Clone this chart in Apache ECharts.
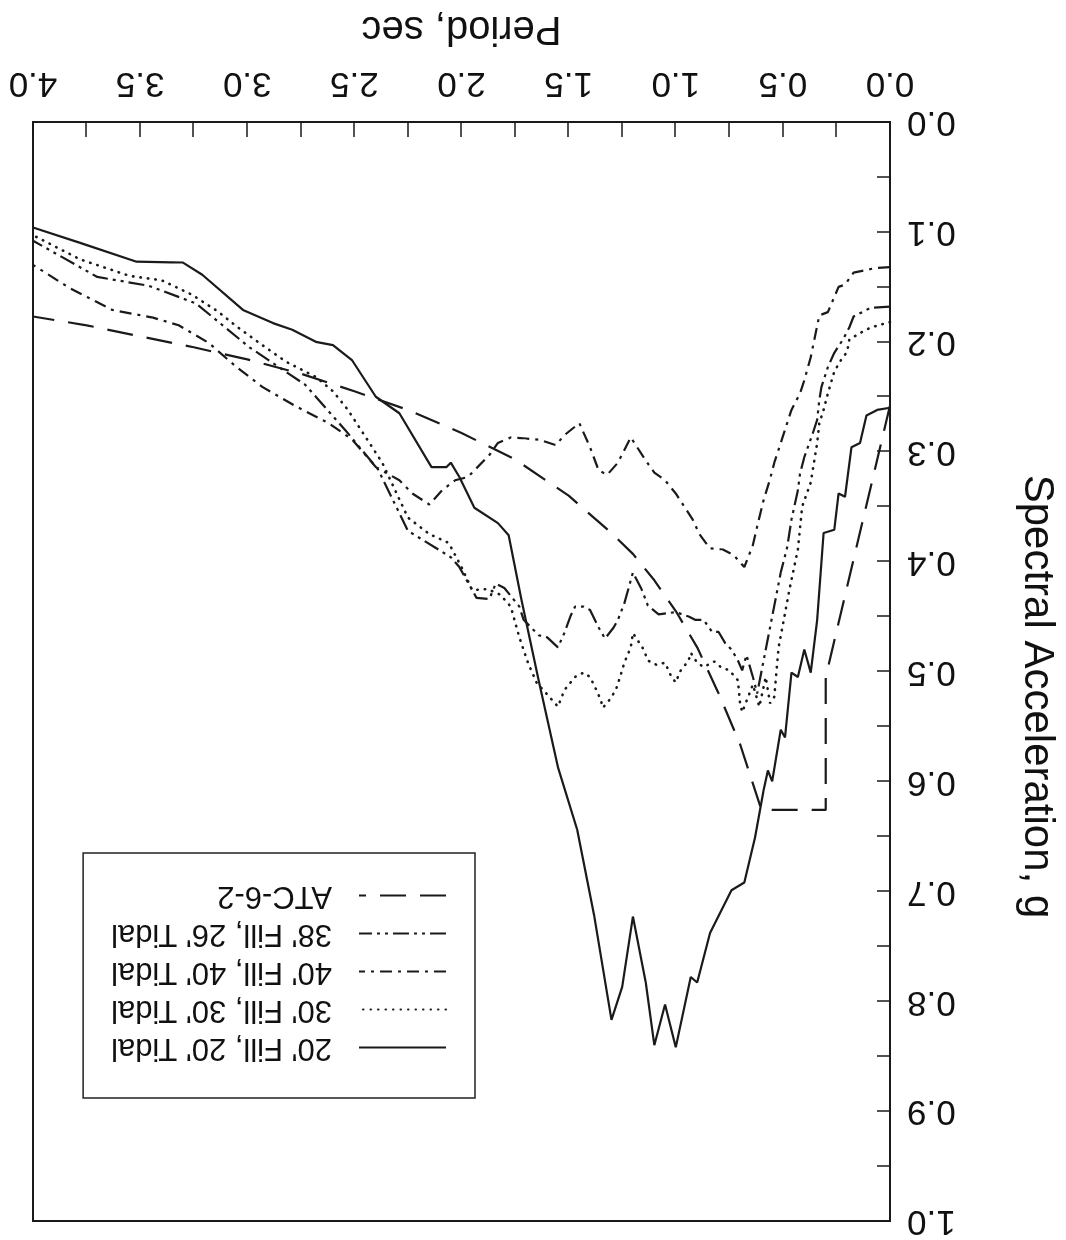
<!DOCTYPE html>
<html>
<head>
<meta charset="utf-8">
<script src="https://cdn.jsdelivr.net/npm/echarts@6/dist/echarts.min.js"></script>
<style>
  html, body { margin: 0; padding: 0; background: #fff; }
  /* the scanned figure is upside down, so the whole chart is turned 180deg */
  #chart { width: 1066px; height: 1240px; transform: rotate(180deg); }
</style>
</head>
<body>
<div id="chart"></div>
<script>
// [period (sec), spectral acceleration (g)]
const fill20Tidal20 = [
  [0.00, 0.260], [0.06, 0.262], [0.11, 0.267], [0.14, 0.292], [0.18, 0.296], [0.21, 0.341],
  [0.24, 0.338], [0.26, 0.371], [0.31, 0.374], [0.34, 0.453], [0.37, 0.501], [0.40, 0.480],
  [0.43, 0.505], [0.46, 0.501], [0.49, 0.560], [0.51, 0.553], [0.55, 0.600], [0.57, 0.590],
  [0.59, 0.608], [0.63, 0.651], [0.68, 0.692], [0.74, 0.699], [0.84, 0.738], [0.90, 0.783],
  [0.93, 0.778], [1.00, 0.842], [1.05, 0.803], [1.10, 0.840], [1.14, 0.783], [1.20, 0.723],
  [1.25, 0.787], [1.30, 0.817], [1.38, 0.723], [1.46, 0.644], [1.55, 0.587], [1.64, 0.508],
  [1.72, 0.435], [1.78, 0.376], [1.83, 0.365], [1.94, 0.351], [2.01, 0.323], [2.05, 0.310],
  [2.07, 0.314], [2.14, 0.314], [2.29, 0.265], [2.40, 0.250], [2.51, 0.217], [2.60, 0.203],
  [2.68, 0.200], [2.79, 0.189], [2.88, 0.183], [3.02, 0.171], [3.21, 0.139], [3.30, 0.128],
  [3.52, 0.127], [3.78, 0.110], [4.00, 0.096]
]
const fill30Tidal30 = [
  [0.00, 0.182], [0.09, 0.187], [0.14, 0.192], [0.19, 0.198], [0.20, 0.209], [0.23, 0.217],
  [0.26, 0.227], [0.29, 0.247], [0.31, 0.262], [0.33, 0.274], [0.34, 0.292], [0.37, 0.328],
  [0.41, 0.350], [0.43, 0.389], [0.47, 0.426], [0.49, 0.447], [0.52, 0.478], [0.53, 0.500],
  [0.54, 0.523], [0.56, 0.529], [0.58, 0.505], [0.61, 0.532], [0.64, 0.512], [0.69, 0.537],
  [0.70, 0.529], [0.71, 0.508], [0.75, 0.499], [0.79, 0.496], [0.82, 0.491], [0.87, 0.496],
  [0.90, 0.492], [0.93, 0.483], [0.94, 0.490], [0.98, 0.500], [1.00, 0.510], [1.02, 0.505],
  [1.05, 0.492], [1.09, 0.494], [1.13, 0.490], [1.15, 0.480], [1.18, 0.471], [1.20, 0.465],
  [1.21, 0.478], [1.24, 0.492], [1.26, 0.505], [1.28, 0.517], [1.31, 0.526], [1.34, 0.533],
  [1.35, 0.526], [1.37, 0.517], [1.40, 0.505], [1.43, 0.501], [1.47, 0.505], [1.52, 0.517],
  [1.55, 0.532], [1.60, 0.521], [1.65, 0.510], [1.69, 0.492], [1.73, 0.469], [1.77, 0.441],
  [1.82, 0.430], [1.88, 0.425], [1.95, 0.426], [2.00, 0.405], [2.06, 0.383], [2.15, 0.375],
  [2.25, 0.360], [2.31, 0.335], [2.37, 0.310], [2.47, 0.280], [2.53, 0.262], [2.60, 0.245],
  [2.68, 0.232], [2.82, 0.218], [2.93, 0.203], [3.05, 0.186], [3.14, 0.172], [3.26, 0.157],
  [3.40, 0.144], [3.55, 0.140], [3.78, 0.125], [4.00, 0.103]
]
const fill40Tidal40 = [
  [0.00, 0.132], [0.07, 0.133], [0.17, 0.137], [0.21, 0.148], [0.24, 0.150], [0.29, 0.173],
  [0.33, 0.176], [0.35, 0.195], [0.37, 0.214], [0.40, 0.235], [0.42, 0.247], [0.46, 0.262],
  [0.48, 0.274], [0.51, 0.292], [0.54, 0.310], [0.56, 0.325], [0.59, 0.344], [0.62, 0.368],
  [0.64, 0.385], [0.68, 0.405], [0.73, 0.394], [0.78, 0.389], [0.84, 0.388], [0.89, 0.375],
  [0.92, 0.362], [0.96, 0.350], [1.00, 0.338], [1.05, 0.326], [1.10, 0.319], [1.14, 0.308],
  [1.18, 0.296], [1.21, 0.287], [1.27, 0.310], [1.32, 0.321], [1.36, 0.317], [1.40, 0.296],
  [1.45, 0.274], [1.52, 0.285], [1.56, 0.294], [1.64, 0.289], [1.70, 0.288], [1.77, 0.287],
  [1.83, 0.292], [1.87, 0.303], [1.97, 0.323], [2.03, 0.326], [2.09, 0.335], [2.15, 0.348],
  [2.23, 0.338], [2.29, 0.326], [2.40, 0.314], [2.51, 0.289], [2.62, 0.274], [2.77, 0.259],
  [2.93, 0.241], [3.05, 0.223], [3.18, 0.201], [3.32, 0.185], [3.44, 0.178], [3.63, 0.171],
  [3.83, 0.151], [4.00, 0.130]
]
const fill38Tidal26 = [
  [0.00, 0.168], [0.09, 0.169], [0.17, 0.177], [0.19, 0.187], [0.22, 0.198], [0.26, 0.210],
  [0.29, 0.223], [0.32, 0.241], [0.33, 0.253], [0.34, 0.271], [0.36, 0.283], [0.40, 0.305],
  [0.42, 0.320], [0.43, 0.335], [0.46, 0.362], [0.48, 0.387], [0.51, 0.410], [0.53, 0.430],
  [0.56, 0.460], [0.58, 0.480], [0.60, 0.500], [0.62, 0.520], [0.64, 0.505], [0.67, 0.485],
  [0.69, 0.499], [0.71, 0.490], [0.74, 0.480], [0.77, 0.474], [0.80, 0.464], [0.83, 0.464],
  [0.87, 0.453], [0.91, 0.453], [0.94, 0.450], [1.00, 0.446], [1.08, 0.448], [1.13, 0.440],
  [1.16, 0.425], [1.20, 0.410], [1.24, 0.438], [1.27, 0.453], [1.29, 0.460], [1.33, 0.470],
  [1.36, 0.460], [1.40, 0.444], [1.43, 0.441], [1.47, 0.441], [1.49, 0.449], [1.52, 0.465],
  [1.55, 0.478], [1.60, 0.469], [1.64, 0.467], [1.71, 0.453], [1.73, 0.441], [1.80, 0.424],
  [1.84, 0.420], [1.87, 0.434], [1.93, 0.433], [2.01, 0.405], [2.05, 0.396], [2.25, 0.372],
  [2.39, 0.316], [2.54, 0.281], [2.73, 0.239], [2.99, 0.205], [3.24, 0.165], [3.46, 0.149],
  [3.70, 0.141], [4.00, 0.108]
]
const atc62 = [
  [0.00, 0.258], [0.30, 0.505], [0.30, 0.626], [0.60, 0.626], [0.70, 0.566], [0.80, 0.520],
  [0.90, 0.478], [1.00, 0.445], [1.10, 0.417], [1.20, 0.393], [1.30, 0.374], [1.50, 0.340],
  [1.75, 0.307], [2.00, 0.283], [2.25, 0.262], [2.50, 0.245], [2.75, 0.229], [3.00, 0.216],
  [3.25, 0.205], [3.50, 0.195], [3.75, 0.185], [4.00, 0.177]
]

const seriesNames = ["20' Fill, 20' Tidal", "30' Fill, 30' Tidal", "40' Fill, 40' Tidal", "38' Fill, 26' Tidal", 'ATC-6-2']
const seriesData = [fill20Tidal20, fill30Tidal30, fill40Tidal40, fill38Tidal26, atc62]
const dashes = ['solid', [0.5, 7], [12, 6, 3, 6], [16, 5, 3, 5, 3, 5], [26, 14]]

const font = '"Liberation Sans", Arial, Helvetica, sans-serif'
const ink = '#1a1a1a'

const chart = echarts.init(document.getElementById('chart'))

chart.setOption({
  animation: false,
  backgroundColor: '#fff',
  grid: { left: 173, right: 33, top: 19, bottom: 122, show: true, borderColor: ink, borderWidth: 2, backgroundColor: 'transparent' },
  legend: {
    orient: 'vertical',
    left: 591,
    top: 142,
    padding: [35, 28, 27, 28],
    itemWidth: 87,
    itemHeight: 14,
    itemGap: 7,
    borderColor: '#222',
    borderWidth: 1.5,
    data: seriesNames,
    // hide the marker the line legend icon draws in its middle
    itemStyle: { color: 'rgba(0,0,0,0)', borderWidth: 0, opacity: 0 },
    textStyle: { fontFamily: font, fontSize: 31, lineHeight: 31, color: '#111', padding: [0, 0, 0, 22] }
  },
  xAxis: {
    type: 'value',
    min: 0,
    max: 4,
    interval: 0.25,
    name: 'Period, sec',
    nameLocation: 'middle',
    nameGap: 74,
    nameTextStyle: { fontFamily: font, fontSize: 40, color: '#111' },
    axisLine: { lineStyle: { color: ink, width: 2 } },
    axisTick: { inside: true, length: 15, lineStyle: { color: ink, width: 1.5 } },
    axisLabel: {
      margin: 22,
      fontFamily: font,
      fontSize: 35,
      color: '#111',
      formatter: v => (Math.round(v * 4) % 2 === 0 ? v.toFixed(1) : '')
    },
    splitLine: { show: false }
  },
  yAxis: {
    type: 'value',
    min: 0,
    max: 1,
    interval: 0.05,
    name: 'Spectral Acceleration, g',
    nameLocation: 'middle',
    nameRotate: 90,
    nameGap: 126,
    // left padding nudges the title a little toward the top, as in the scan
    nameTextStyle: { fontFamily: font, fontSize: 42, color: '#111', padding: [0, 0, 0, 50] },
    axisLine: { show: true, lineStyle: { color: ink, width: 2 } },
    axisTick: { show: true, inside: true, length: 13, lineStyle: { color: ink, width: 1.5 } },
    axisLabel: {
      margin: 17,
      fontFamily: font,
      fontSize: 35,
      color: '#111',
      formatter: v => (Math.round(v * 20) % 2 === 0 ? v.toFixed(1) : '')
    },
    splitLine: { show: false }
  },
  series: seriesNames.map((name, i) => ({
    type: 'line',
    name: name,
    data: seriesData[i],
    symbol: 'none',
    lineStyle: {
      color: ink,
      width: i === 1 ? 2.6 : 2.2,
      type: dashes[i],
      cap: i === 1 ? 'round' : 'butt'
    },
    itemStyle: { color: ink }
  }))
})
</script>
</body>
</html>
